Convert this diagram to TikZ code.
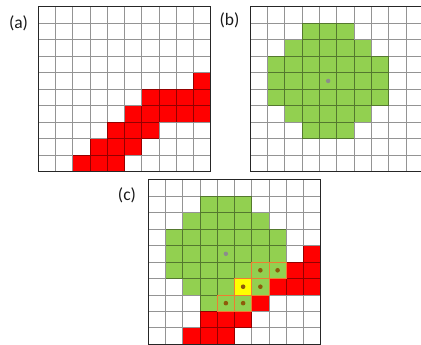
\documentclass[tikz,border=0pt]{standalone}
\usepackage{fontspec}
\setmainfont{Carlito}
\definecolor{cgreen}{HTML}{92D050}
\definecolor{cred}{HTML}{FF0000}
\definecolor{cyellow}{HTML}{FFFF00}
\definecolor{cbrown}{HTML}{8E5B0A}
\definecolor{corange}{HTML}{ED7D31}
\definecolor{cgray}{HTML}{8C8C8C}
\begin{document}
\begin{tikzpicture}[x=1pt,y=-1pt,
  cellgrid/.style={black, opacity=0.42, line width=0.9pt},
  frame/.style={black!85, line width=1.2pt},
  lab/.style={inner sep=0pt, text=black!90, font=\fontsize{17.5}{17.5}\selectfont},
  redcell/.style={fill=cred},
  greencell/.style={fill=cgreen},
  ovcell/.style={draw=corange, line width=0.8pt},
  bdot/.style={fill=cbrown},
  gdot/.style={fill=cgray}]
\useasboundingbox (0,0) rectangle (421,345);

% ---------- (a) ----------
\node[lab] (la) at (18.5,23) {(a)};
\begin{scope}[shift={(38.3,6.7)}, x=17.24pt, y=-16.5pt]
  \foreach \c/\r in {9/4, 6/5,7/5,8/5,9/5, 5/6,6/6,7/6,8/6,9/6, 4/7,5/7,6/7, 3/8,4/8,5/8, 2/9,3/9,4/9}
    \fill[redcell] (\c,\r) rectangle ++(1,1);
  \draw[cellgrid] \foreach \i in {1,...,9} {(\i,0) -- (\i,10) (0,\i) -- (10,\i)};
  \draw[frame] (0,0) rectangle (10,10);
\end{scope}

% ---------- (b) ----------
\node[lab] (lb) at (229.5,20) {(b)};
\begin{scope}[shift={(250.3,6.7)}, x=17.3pt, y=-16.5pt]
  \foreach \c/\r in {3/1,4/1,5/1, 2/2,3/2,4/2,5/2,6/2,
                     1/3,2/3,3/3,4/3,5/3,6/3,7/3, 1/4,2/4,3/4,4/4,5/4,6/4,7/4,
                     1/5,2/5,3/5,4/5,5/5,6/5,7/5, 2/6,3/6,4/6,5/6,6/6, 3/7,4/7,5/7}
    \fill[greencell] (\c,\r) rectangle ++(1,1);
  \draw[cellgrid] \foreach \i in {1,...,9} {(\i,0) -- (\i,10) (0,\i) -- (10,\i)};
  \draw[frame] (0,0) rectangle (10,10);
  \fill[gdot] (4.5,4.5) circle[radius=2.2pt];
\end{scope}

% ---------- (c) ----------
\node[lab] (lc) at (127,195) {(c)};
\begin{scope}[shift={(148.3,179.8)}, x=17.24pt, y=-16.45pt]
  \foreach \c/\r in {9/4, 6/5,7/5,8/5,9/5, 5/6,6/6,7/6,8/6,9/6, 4/7,5/7,6/7, 3/8,4/8,5/8, 2/9,3/9,4/9}
    \fill[redcell] (\c,\r) rectangle ++(1,1);
  \foreach \c/\r in {3/1,4/1,5/1, 2/2,3/2,4/2,5/2,6/2,
                     1/3,2/3,3/3,4/3,5/3,6/3,7/3, 1/4,2/4,3/4,4/4,5/4,6/4,7/4,
                     1/5,2/5,3/5,4/5,5/5,6/5,7/5, 2/6,3/6,4/6,5/6,6/6, 3/7,4/7,5/7}
    \fill[greencell] (\c,\r) rectangle ++(1,1);
  \fill[cyellow] (5,6) rectangle ++(1,1);
  \draw[cellgrid] \foreach \i in {1,...,9} {(\i,0) -- (\i,10) (0,\i) -- (10,\i)};
  \foreach \c/\r in {6/5,7/5,5/6,6/6,4/7,5/7}
    \draw[ovcell] (\c,\r) rectangle ++(1,1);
  \draw[frame] (0,0) rectangle (10,10);
  \foreach \c/\r in {6/5,7/5,5/6,6/6,4/7,5/7}
    \fill[bdot] (\c+0.5,\r+0.5) circle[radius=2.3pt];
  \fill[gdot] (4.5,4.5) circle[radius=2.2pt];
\end{scope}
\end{tikzpicture}
\end{document}
